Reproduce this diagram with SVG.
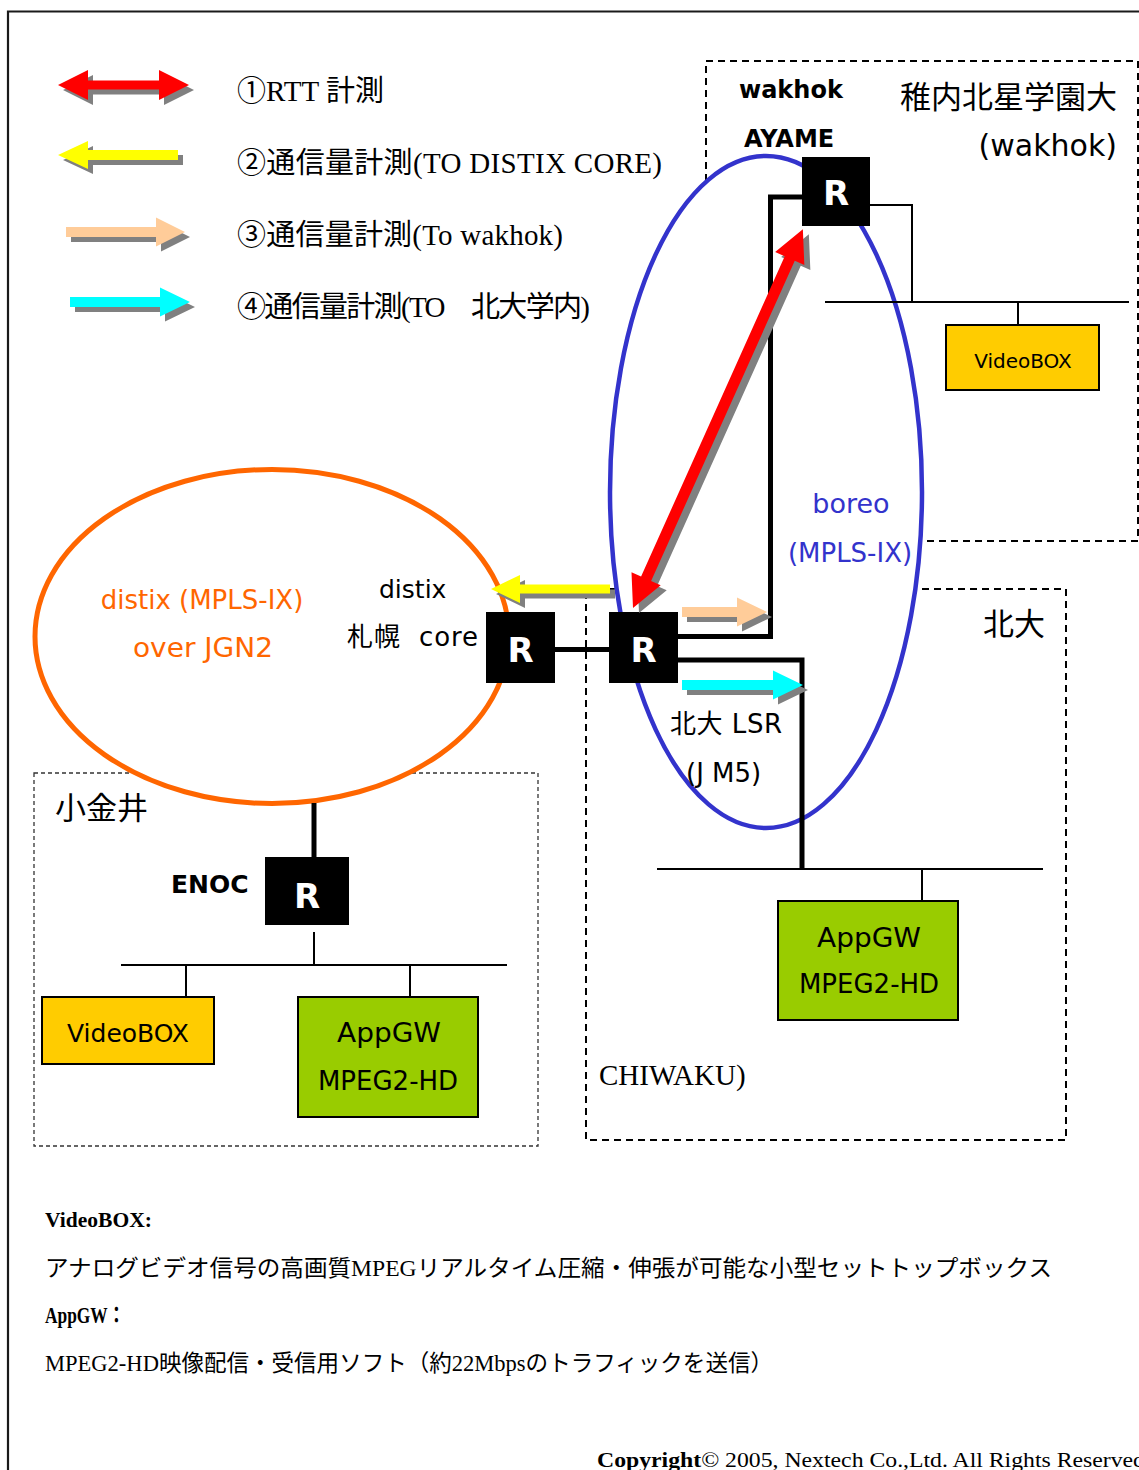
<svg xmlns="http://www.w3.org/2000/svg" width="1139" height="1470" viewBox="0 0 1139 1470">
<style>
.sans{font-family:"DejaVu Sans","Noto Sans CJK JP",sans-serif}
.serif{font-family:"Liberation Serif","Noto Sans CJK JP",serif}
.cjk{font-family:"Noto Sans CJK JP",sans-serif}
.b{font-weight:bold}
.rt{font-family:"DejaVu Sans",sans-serif;font-weight:bold;font-size:34px;fill:#fff;text-anchor:middle}
.router{fill:#000}
.thick{fill:none;stroke:#000;stroke-width:5}
.thin{fill:none;stroke:#000;stroke-width:2}
.dash{fill:none;stroke:#000;stroke-width:2;stroke-dasharray:7,5}
.dash2{fill:none;stroke:#333;stroke-width:1.3;stroke-dasharray:4,3}
.vbox{fill:#FFCC00;stroke:#000;stroke-width:2}
.gbox{fill:#99CC00;stroke:#000;stroke-width:2}
.sh{fill:#808080}
</style>

<!-- outer frame -->
<path d="M8,1475 V11.5 H1145" fill="none" stroke="#1a1a1a" stroke-width="2.2"/>

<!-- dashed areas -->
<g id="area-wakhok"><rect class="dash" x="706" y="61" width="432" height="480"/></g>
<g id="area-hokudai"><rect class="dash" x="586" y="589" width="480" height="551"/></g>
<g id="area-koganei"><rect class="dash2" x="34" y="773" width="504" height="373"/></g>

<!-- clouds -->
<g id="distix-cloud">
<ellipse cx="272" cy="636.5" rx="237" ry="167" fill="#fff" stroke="#FF6600" stroke-width="5"/>
<text class="sans" x="202" y="609" font-size="26" fill="#FF6600" text-anchor="middle">distix (MPLS-IX)</text>
<text class="sans" x="203" y="657" font-size="26" fill="#FF6600" text-anchor="middle" textLength="140" lengthAdjust="spacingAndGlyphs">over JGN2</text>
</g>
<g id="boreo-cloud">
<ellipse cx="766" cy="492" rx="156" ry="336" fill="#fff" stroke="#3333CC" stroke-width="4.5"/>
</g>

<!-- connectors -->
<g id="connectors">
<line class="thick" x1="555" y1="649.5" x2="609" y2="649.5"/>
<polyline class="thick" points="678,636.5 770.5,636.5 770.5,197 802,197"/>
<polyline class="thick" points="678,660 802,660 802,869"/>
<line class="thin" x1="657" y1="869" x2="1043" y2="869"/>
<line class="thin" x1="922" y1="869" x2="922" y2="901"/>
<polyline class="thin" points="870,205 912,205 912,302"/>
<line class="thin" x1="825" y1="302" x2="1129" y2="302"/>
<line class="thin" x1="1018" y1="302" x2="1018" y2="325"/>
<line class="thick" x1="314" y1="803" x2="314" y2="857"/>
<line class="thin" x1="314" y1="932" x2="314" y2="965"/>
<line class="thin" x1="121" y1="965" x2="507" y2="965"/>
<line class="thin" x1="186" y1="965" x2="186" y2="997"/>
<line class="thin" x1="410" y1="965" x2="410" y2="997"/>
</g>

<!-- routers -->
<g id="router-ayame"><rect class="router" x="802" y="157" width="68" height="69"/><text class="rt" x="836" y="205">R</text></g>
<g id="router-distix"><rect class="router" x="486" y="612" width="69" height="71"/><text class="rt" x="520.5" y="662">R</text></g>
<g id="router-hokudai"><rect class="router" x="609" y="612" width="69" height="71"/><text class="rt" x="643.5" y="662">R</text></g>
<g id="router-enoc"><rect class="router" x="265" y="857" width="84" height="68"/><text class="rt" x="307" y="908">R</text></g>

<!-- devices -->
<g id="videobox-wakhok"><rect class="vbox" x="946" y="325" width="153" height="65"/><text class="sans" x="1023" y="368" font-size="20" text-anchor="middle">VideoBOX</text></g>
<g id="appgw-hokudai"><rect class="gbox" x="778" y="901" width="180" height="119"/>
<text class="sans" x="869" y="947" font-size="26" text-anchor="middle" textLength="104" lengthAdjust="spacingAndGlyphs">AppGW</text>
<text class="sans" x="869" y="993" font-size="26" text-anchor="middle">MPEG2-HD</text></g>
<g id="videobox-koganei"><rect class="vbox" x="42" y="997" width="172" height="67"/><text class="sans" x="128" y="1042" font-size="25" text-anchor="middle">VideoBOX</text></g>
<g id="appgw-koganei"><rect class="gbox" x="298" y="997" width="180" height="120"/>
<text class="sans" x="389" y="1042" font-size="26" text-anchor="middle" textLength="104" lengthAdjust="spacingAndGlyphs">AppGW</text>
<text class="sans" x="388" y="1090" font-size="26" text-anchor="middle">MPEG2-HD</text></g>

<!-- measurement arrows in diagram -->
<g id="arrow-rtt">
<g transform="translate(639,613) rotate(-65.84)"><polygon class="sh" points="0,0 32,-16 32,-5.5 383,-5.5 383,-16 415,0 383,16 383,5.5 32,5.5 32,16"/></g>
<g transform="translate(633,608) rotate(-65.84)"><polygon fill="#FF0000" points="0,0 32,-16 32,-5.5 383,-5.5 383,-16 415,0 383,16 383,5.5 32,5.5 32,16"/></g>
</g>
<g id="arrow-distix">
<polygon class="sh" transform="translate(5,5)" points="491,589 520,575 520,584.5 610,584.5 610,593.5 520,593.5 520,603"/>
<polygon fill="#FFFF00" points="491,589 520,575 520,584.5 610,584.5 610,593.5 520,593.5 520,603"/>
</g>
<g id="arrow-wakhok">
<polygon class="sh" transform="translate(5,5)" points="682,607 737,607 737,597.5 767,612 737,626.5 737,617 682,617"/>
<polygon fill="#FFCC99" points="682,607 737,607 737,597.5 767,612 737,626.5 737,617 682,617"/>
</g>
<g id="arrow-hokudai">
<polygon class="sh" transform="translate(5,5)" points="682,680 773,680 773,670.5 803,685 773,699.5 773,690 682,690"/>
<polygon fill="#00FFFF" points="682,680 773,680 773,670.5 803,685 773,699.5 773,690 682,690"/>
</g>

<!-- labels -->
<g id="labels">
<text class="sans b" x="739" y="98" font-size="24">wakhok</text>
<text class="sans b" x="744" y="147" font-size="24">AYAME</text>
<text class="cjk" x="1117" y="108" font-size="31" text-anchor="end">稚内北星学園大</text>
<text class="sans" x="1117" y="156" font-size="30" text-anchor="end">(wakhok)</text>
<text class="sans" x="851" y="513" font-size="27" fill="#3333CC" text-anchor="middle">boreo</text>
<text class="sans" x="850" y="562" font-size="26" fill="#3333CC" text-anchor="middle">(MPLS-IX)</text>
<text class="cjk" x="983" y="635" font-size="31">北大</text>
<text class="sans" x="670" y="733" font-size="26" textLength="112">北大 LSR</text>
<text class="sans" x="686" y="782" font-size="26">(J M5)</text>
<text class="sans" x="379" y="598" font-size="25">distix</text>
<text class="sans" x="347" y="646" font-size="26" textLength="131" xml:space="preserve">札幌  core</text>
<text class="cjk" x="55" y="819" font-size="31">小金井</text>
<text class="sans b" x="171" y="893" font-size="25">ENOC</text>
<text class="serif" x="599" y="1085" font-size="29">CHIWAKU)</text>
</g>

<!-- legend -->
<g id="legend">
<polygon class="sh" transform="translate(5,5)" points="58,85 88,70 88,80.5 159,80.5 159,70 189,85 159,100 159,89.5 88,89.5 88,100"/>
<polygon fill="#FF0000" points="58,85 88,70 88,80.5 159,80.5 159,70 189,85 159,100 159,89.5 88,89.5 88,100"/>
<polygon class="sh" transform="translate(5,5)" points="58,155 88,141 88,150 178,150 178,160 88,160 88,169"/>
<polygon fill="#FFFF00" points="58,155 88,141 88,150 178,150 178,160 88,160 88,169"/>
<polygon class="sh" transform="translate(5,5)" points="66,227 156,227 156,217.5 185,232 156,246.5 156,237 66,237"/>
<polygon fill="#FFCC99" points="66,227 156,227 156,217.5 185,232 156,246.5 156,237 66,237"/>
<polygon class="sh" transform="translate(5,5)" points="70,297 160,297 160,287.5 190,302 160,316.5 160,307 70,307"/>
<polygon fill="#00FFFF" points="70,297 160,297 160,287.5 190,302 160,316.5 160,307 70,307"/>
<text class="serif" x="237" y="101" font-size="29" textLength="147">①RTT 計測</text>
<text class="serif" x="237" y="173" font-size="29" textLength="425">②通信量計測(TO DISTIX CORE)</text>
<text class="serif" x="237" y="245" font-size="29" textLength="326">③通信量計測(To wakhok)</text>
<text class="serif" x="237" y="317" font-size="29" textLength="353">④通信量計測(TO　北大学内)</text>
</g>

<!-- notes -->
<g id="notes">
<text class="serif b" x="45" y="1227" font-size="22" textLength="107" lengthAdjust="spacingAndGlyphs">VideoBOX:</text>
<text class="serif" x="45" y="1276" font-size="23" textLength="1007" lengthAdjust="spacingAndGlyphs">アナログビデオ信号の高画質MPEGリアルタイム圧縮・伸張が可能な小型セットトップボックス</text>
<text class="serif b" x="45" y="1323" font-size="23" textLength="80" lengthAdjust="spacingAndGlyphs">AppGW：</text>
<text class="serif" x="45" y="1371" font-size="23" textLength="728" lengthAdjust="spacingAndGlyphs">MPEG2-HD映像配信・受信用ソフト（約22Mbpsのトラフィックを送信）</text>
<text class="serif" x="597" y="1467" font-size="22" textLength="548" lengthAdjust="spacingAndGlyphs"><tspan font-weight="bold">Copyright</tspan>© 2005, Nextech Co.,Ltd. All Rights Reserved</text>
</g>
</svg>
